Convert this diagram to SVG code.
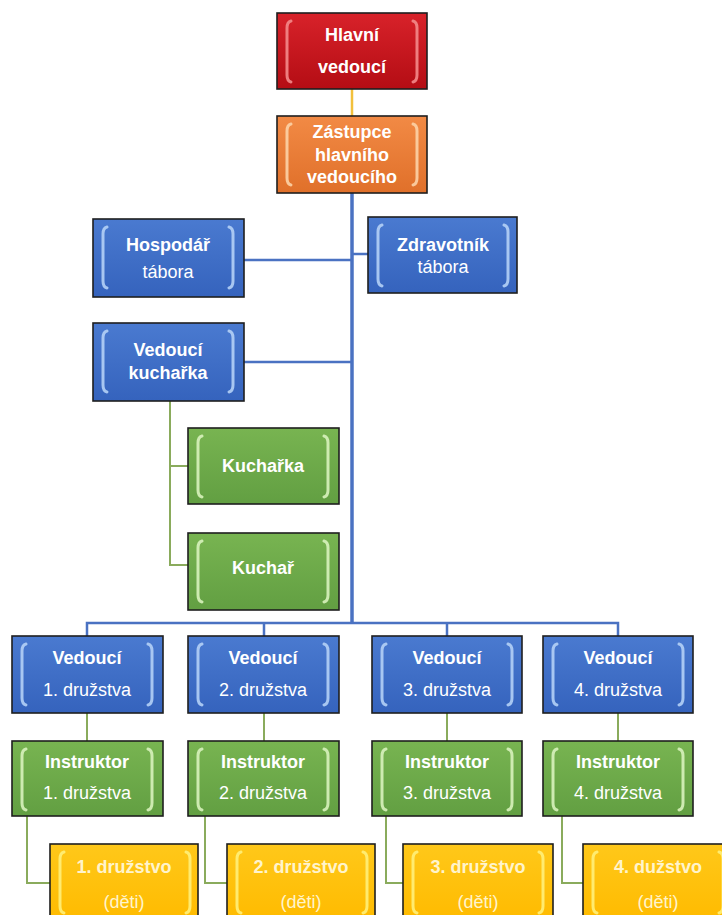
<svg xmlns="http://www.w3.org/2000/svg" xmlns:xlink="http://www.w3.org/1999/xlink" width="722" height="915" viewBox="0 0 722 915">
<style>
.box{stroke:#1e1e1e;stroke-width:1.6}
.brk{fill:none;stroke-width:3;stroke-linecap:round;opacity:.9}
.t{font-family:"Liberation Sans",Arial,sans-serif;font-size:18px;fill:#ffffff;text-anchor:middle}
.b{font-weight:bold}
.ty{fill:#fff4cc}
.cb{stroke:#4a72c2;fill:none}
.cg{stroke:#8aab5c;stroke-width:2;fill:none}
</style>
<defs>
<linearGradient id="gRed" x1="0" y1="0" x2="0" y2="1"><stop offset="0" stop-color="#d8222a"/><stop offset="1" stop-color="#b40d14"/></linearGradient>
<linearGradient id="gOra" x1="0" y1="0" x2="0" y2="1"><stop offset="0" stop-color="#f28a45"/><stop offset="1" stop-color="#e0702a"/></linearGradient>
<linearGradient id="gBlu" x1="0" y1="0" x2="0" y2="1"><stop offset="0" stop-color="#4a7ad0"/><stop offset="1" stop-color="#3563bd"/></linearGradient>
<linearGradient id="gGre" x1="0" y1="0" x2="0" y2="1"><stop offset="0" stop-color="#78b451"/><stop offset="1" stop-color="#629f42"/></linearGradient>
<linearGradient id="gYel" x1="0" y1="0" x2="0" y2="1"><stop offset="0" stop-color="#ffc81a"/><stop offset="1" stop-color="#ffbb00"/></linearGradient>
<path id="brk" d="M14,8 Q10,9 10,15 V62 Q10,68 14,69 M136,8 Q140,9 140,15 V62 Q140,68 136,69"/>
</defs>

<g id="connectors">
<line x1="352" y1="89" x2="352" y2="116" stroke="#f2c03c" stroke-width="2.5"/>
<line class="cb" x1="352" y1="193" x2="352" y2="623" stroke-width="3.5"/>
<line class="cb" x1="244" y1="260" x2="352" y2="260" stroke-width="2.5"/>
<line class="cb" x1="352" y1="254" x2="368" y2="254" stroke-width="2.5"/>
<line class="cb" x1="244" y1="362" x2="352" y2="362" stroke-width="2.5"/>
<path class="cg" d="M170,401 V565 H188 M170,466 H188"/>
<path class="cb" stroke-width="2.5" d="M87,636 V623 H618 V636 M264,623 V636 M447,623 V636"/>
<path class="cg" d="M87,713 V741 M264,713 V741 M447,713 V741 M618,713 V741"/>
<path class="cg" d="M27,816 V883 H50 M205,816 V883 H227 M386,816 V883 H403 M562,816 V883 H583"/>
</g>

<g id="hlavni" transform="translate(277,13)">
<rect class="box" width="150" height="76" fill="url(#gRed)"/>
<use xlink:href="#brk" class="brk" stroke="#f38a8a"/>
<text class="t b" x="75" y="28">Hlavní</text>
<text class="t b" x="75" y="60">vedoucí</text>
</g>

<g id="zastupce" transform="translate(277,116)">
<rect class="box" width="150" height="77" fill="url(#gOra)"/>
<use xlink:href="#brk" class="brk" stroke="#fcd2a6"/>
<text class="t b" x="75" y="22">Zástupce</text>
<text class="t b" x="75" y="45">hlavního</text>
<text class="t b" x="75" y="67">vedoucího</text>
</g>

<g id="hospodar" transform="translate(93,219)">
<rect class="box" width="151" height="78" fill="url(#gBlu)"/>
<use xlink:href="#brk" class="brk" stroke="#b4d0f6"/>
<text class="t b" x="75" y="32">Hospodář</text>
<text class="t" x="75" y="59">tábora</text>
</g>

<g id="zdravotnik" transform="translate(368,217)">
<rect class="box" width="149" height="76" fill="url(#gBlu)"/>
<use xlink:href="#brk" class="brk" stroke="#b4d0f6"/>
<text class="t b" x="75" y="34">Zdravotník</text>
<text class="t" x="75" y="56">tábora</text>
</g>

<g id="vedouci_kucharka" transform="translate(93,323)">
<rect class="box" width="151" height="78" fill="url(#gBlu)"/>
<use xlink:href="#brk" class="brk" stroke="#b4d0f6"/>
<text class="t b" x="75" y="33">Vedoucí</text>
<text class="t b" x="75" y="56">kuchařka</text>
</g>

<g id="kucharka" transform="translate(188,428)">
<rect class="box" width="151" height="76" fill="url(#gGre)"/>
<use xlink:href="#brk" class="brk" stroke="#d8f2bc"/>
<text class="t b" x="75" y="44">Kuchařka</text>
</g>

<g id="kuchar" transform="translate(188,533)">
<rect class="box" width="151" height="77" fill="url(#gGre)"/>
<use xlink:href="#brk" class="brk" stroke="#d8f2bc"/>
<text class="t b" x="75" y="41">Kuchař</text>
</g>

<g id="vedouci1" transform="translate(12,636)">
<rect class="box" width="151" height="77" fill="url(#gBlu)"/>
<use xlink:href="#brk" class="brk" stroke="#b4d0f6"/>
<text class="t b" x="75" y="28">Vedoucí</text>
<text class="t" x="75" y="60">1. družstva</text>
</g>
<g id="vedouci2" transform="translate(188,636)">
<rect class="box" width="151" height="77" fill="url(#gBlu)"/>
<use xlink:href="#brk" class="brk" stroke="#b4d0f6"/>
<text class="t b" x="75" y="28">Vedoucí</text>
<text class="t" x="75" y="60">2. družstva</text>
</g>
<g id="vedouci3" transform="translate(372,636)">
<rect class="box" width="150" height="77" fill="url(#gBlu)"/>
<use xlink:href="#brk" class="brk" stroke="#b4d0f6"/>
<text class="t b" x="75" y="28">Vedoucí</text>
<text class="t" x="75" y="60">3. družstva</text>
</g>
<g id="vedouci4" transform="translate(543,636)">
<rect class="box" width="150" height="77" fill="url(#gBlu)"/>
<use xlink:href="#brk" class="brk" stroke="#b4d0f6"/>
<text class="t b" x="75" y="28">Vedoucí</text>
<text class="t" x="75" y="60">4. družstva</text>
</g>

<g id="instruktor1" transform="translate(12,741)">
<rect class="box" width="151" height="75" fill="url(#gGre)"/>
<use xlink:href="#brk" class="brk" stroke="#d8f2bc"/>
<text class="t b" x="75" y="27">Instruktor</text>
<text class="t" x="75" y="58">1. družstva</text>
</g>
<g id="instruktor2" transform="translate(188,741)">
<rect class="box" width="151" height="75" fill="url(#gGre)"/>
<use xlink:href="#brk" class="brk" stroke="#d8f2bc"/>
<text class="t b" x="75" y="27">Instruktor</text>
<text class="t" x="75" y="58">2. družstva</text>
</g>
<g id="instruktor3" transform="translate(372,741)">
<rect class="box" width="150" height="75" fill="url(#gGre)"/>
<use xlink:href="#brk" class="brk" stroke="#d8f2bc"/>
<text class="t b" x="75" y="27">Instruktor</text>
<text class="t" x="75" y="58">3. družstva</text>
</g>
<g id="instruktor4" transform="translate(543,741)">
<rect class="box" width="150" height="75" fill="url(#gGre)"/>
<use xlink:href="#brk" class="brk" stroke="#d8f2bc"/>
<text class="t b" x="75" y="27">Instruktor</text>
<text class="t" x="75" y="58">4. družstva</text>
</g>

<g id="druzstvo1" transform="translate(50,844)">
<rect class="box" width="148" height="76" fill="url(#gYel)"/>
<use xlink:href="#brk" class="brk" stroke="#fff07a"/>
<text class="t b ty" x="74" y="29">1. družstvo</text>
<text class="t ty" x="74" y="64">(děti)</text>
</g>
<g id="druzstvo2" transform="translate(227,844)">
<rect class="box" width="148" height="76" fill="url(#gYel)"/>
<use xlink:href="#brk" class="brk" stroke="#fff07a"/>
<text class="t b ty" x="74" y="29">2. družstvo</text>
<text class="t ty" x="74" y="64">(děti)</text>
</g>
<g id="druzstvo3" transform="translate(403,844)">
<rect class="box" width="150" height="76" fill="url(#gYel)"/>
<use xlink:href="#brk" class="brk" stroke="#fff07a"/>
<text class="t b ty" x="75" y="29">3. družstvo</text>
<text class="t ty" x="75" y="64">(děti)</text>
</g>
<g id="druzstvo4" transform="translate(583,844)">
<rect class="box" width="150" height="76" fill="url(#gYel)"/>
<use xlink:href="#brk" class="brk" stroke="#fff07a"/>
<text class="t b ty" x="75" y="29">4. dužstvo</text>
<text class="t ty" x="75" y="64">(děti)</text>
</g>
</svg>
